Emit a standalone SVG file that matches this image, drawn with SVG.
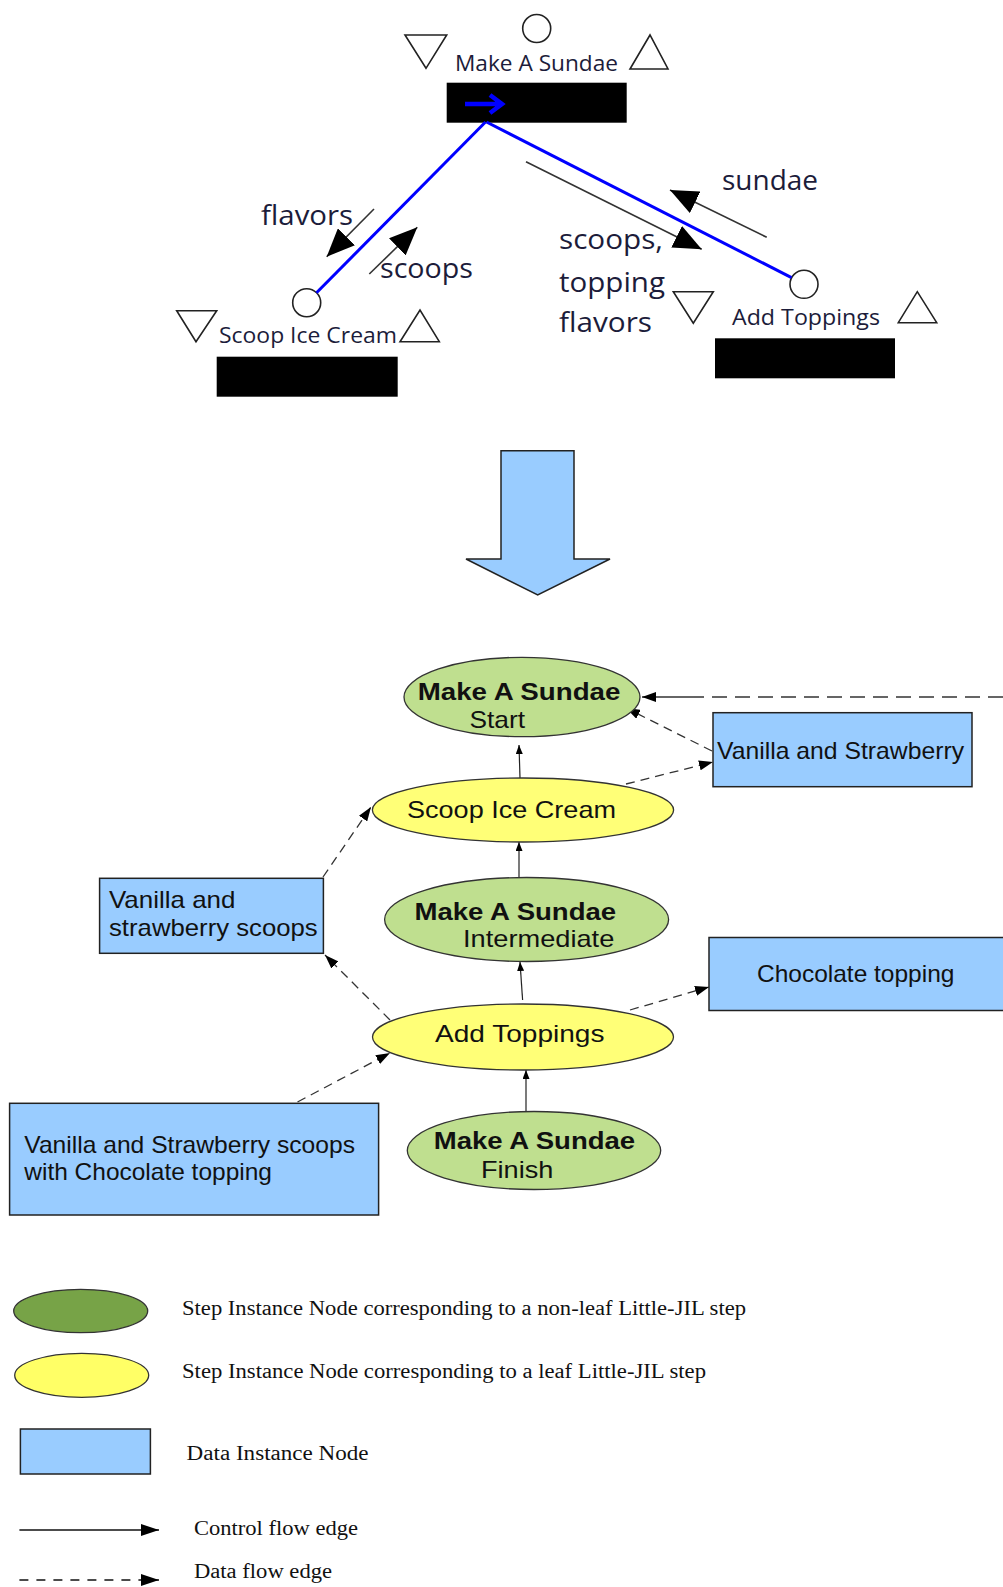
<svg xmlns="http://www.w3.org/2000/svg" width="1003" height="1587" viewBox="0 0 1003 1587">
<style>
.tri{fill:#fff;stroke:#222;stroke-width:1.6}
.port{fill:#fff;stroke:#222;stroke-width:1.6}
.bar{fill:#000}
.lbl{font-family:"Open Sans","Noto Sans",sans-serif;font-size:22px;fill:#1c1c3a}
.big{font-family:"Open Sans","Noto Sans",sans-serif;font-size:28px;fill:#1c1c3a}
.blue{stroke:#0000ff;stroke-width:3;fill:none}
.darr{stroke:#333;stroke-width:1.6;fill:none;marker-end:url(#bigHead)}
.green{fill:#bfdf8f;stroke:#333;stroke-width:1.3}
.yellow{fill:#ffff77;stroke:#333;stroke-width:1.3}
.data{fill:#99ccff;stroke:#222;stroke-width:1.5}
.t{font-family:"Liberation Sans",Arial,sans-serif;font-size:24px;fill:#111}
.tb{font-family:"Liberation Sans",Arial,sans-serif;font-size:24px;font-weight:bold;fill:#111}
.ctrl{stroke:#222;stroke-width:1.2;fill:none;marker-end:url(#ctrlHead)}
.dflow{stroke:#333;stroke-width:1.3;fill:none;stroke-dasharray:9 6;marker-end:url(#dataHead)}
.leg{font-family:"Liberation Serif","Times New Roman",serif;font-size:20px;fill:#111}
</style>
<defs>
<marker id="bigHead" markerUnits="userSpaceOnUse" viewBox="0 0 28 24" refX="28" refY="12" markerWidth="28" markerHeight="24" orient="auto"><path d="M0,0 L28,12 L0,24 z" fill="#000"/></marker>
<marker id="ctrlHead" markerUnits="userSpaceOnUse" viewBox="0 0 9 7" refX="9" refY="3.5" markerWidth="9" markerHeight="7" orient="auto"><path d="M0,0 L9,3.5 L0,7 z" fill="#000"/></marker>
<marker id="dataHead" markerUnits="userSpaceOnUse" viewBox="0 0 14 10" refX="14" refY="5" markerWidth="14" markerHeight="10" orient="auto"><path d="M0,0 L14,5 L0,10 z" fill="#000"/></marker>
<marker id="legHead" markerUnits="userSpaceOnUse" viewBox="0 0 18 12" refX="18" refY="6" markerWidth="18" markerHeight="12" orient="auto"><path d="M0,0 L18,6 L0,12 z" fill="#000"/></marker>
</defs>

<!-- Top: Little-JIL process -->
<g id="jil-make-a-sundae">
<circle class="port" cx="536.7" cy="28.5" r="14"/>
<polygon class="tri" points="405,35 446.7,35 426,68.3"/>
<text class="lbl" x="455" y="71" textLength="163" lengthAdjust="spacingAndGlyphs">Make A Sundae</text>
<polygon class="tri" points="630,69 668,69 650,35"/>
<rect class="bar" x="446.7" y="82.7" width="180" height="40"/>
<path d="M465,104 H500 M490,95 L502,104 L490,113" stroke="#0000ff" stroke-width="4.5" fill="none"/>
</g>
<g id="jil-scoop-ice-cream">
<circle class="port" cx="306.7" cy="302.7" r="14"/>
<polygon class="tri" points="176.7,310.7 216.7,310.7 196,341.7"/>
<text class="lbl" x="219" y="343" textLength="178" lengthAdjust="spacingAndGlyphs">Scoop Ice Cream</text>
<polygon class="tri" points="400,341.7 439.3,341.7 420,310"/>
<rect class="bar" x="216.7" y="356.7" width="181" height="40"/>
</g>
<g id="jil-add-toppings">
<circle class="port" cx="804" cy="284.3" r="14"/>
<polygon class="tri" points="673.3,291.7 713.3,291.7 693.3,323.3"/>
<text class="lbl" x="732" y="325" textLength="148" lengthAdjust="spacingAndGlyphs">Add Toppings</text>
<polygon class="tri" points="898.3,322.7 936.7,322.7 917.3,291.7"/>
<rect class="bar" x="715" y="338.3" width="180" height="40"/>
</g>
<g id="jil-connectors">
<line class="blue" x1="485.5" y1="122" x2="316.5" y2="292.8"/>
<line class="blue" x1="486.5" y1="122" x2="791.5" y2="277.6"/>
<line class="darr" x1="374" y1="209" x2="326.7" y2="256.7"/>
<line class="darr" x1="369.3" y1="274" x2="417.3" y2="227.3"/>
<line class="darr" x1="766.7" y1="237.3" x2="670" y2="190"/>
<line class="darr" x1="526" y1="161.7" x2="701.7" y2="249.3"/>
<text class="big" x="261" y="225" textLength="92" lengthAdjust="spacingAndGlyphs">flavors</text>
<text class="big" x="380" y="278" textLength="93" lengthAdjust="spacingAndGlyphs">scoops</text>
<text class="big" x="722" y="190" textLength="96" lengthAdjust="spacingAndGlyphs">sundae</text>
<text class="big" x="559" y="249" textLength="104" lengthAdjust="spacingAndGlyphs">scoops,</text>
<text class="big" x="559" y="292" textLength="106" lengthAdjust="spacingAndGlyphs">topping</text>
<text class="big" x="559" y="331.5" textLength="93" lengthAdjust="spacingAndGlyphs">flavors</text>
</g>

<!-- Big transformation arrow -->
<g id="transform-arrow">
<polygon points="501,450.7 574,450.7 574,559 610,559 537.7,595 466,559 501,559" fill="#99ccff" stroke="#222" stroke-width="1.5" stroke-linejoin="miter"/>
</g>

<!-- Bottom: DDG -->
<g id="edges">
<line x1="1003" y1="697" x2="694" y2="697" stroke="#333" stroke-width="1.4" stroke-dasharray="15 8"/>
<line x1="694" y1="697" x2="642" y2="697" stroke="#333" stroke-width="1.4" marker-end="url(#dataHead)"/>
<line class="dflow" x1="712" y1="751" x2="626" y2="708"/>
<line class="dflow" x1="626" y1="784" x2="713" y2="762"/>
<line class="dflow" x1="323" y1="877" x2="371" y2="807"/>
<line class="dflow" x1="390" y1="1020" x2="325" y2="955"/>
<line class="dflow" x1="630" y1="1010" x2="709" y2="987"/>
<line class="dflow" x1="297.5" y1="1102" x2="390" y2="1053"/>
<line class="ctrl" x1="520" y1="778" x2="519" y2="745"/>
<line class="ctrl" x1="519" y1="877" x2="519" y2="842"/>
<line class="ctrl" x1="522.6" y1="1000" x2="520" y2="962"/>
<line class="ctrl" x1="526" y1="1111" x2="526" y2="1070"/>
</g>
<g id="node-start">
<ellipse class="green" cx="522" cy="697" rx="118" ry="39.7"/>
<text class="tb" x="417.7" y="700" textLength="202.7" lengthAdjust="spacingAndGlyphs">Make A Sundae</text>
<text class="t" x="469.4" y="728.3" textLength="55.6" lengthAdjust="spacingAndGlyphs">Start</text>
</g>
<g id="node-vanilla-strawberry">
<rect class="data" x="713" y="712.7" width="259" height="74"/>
<text class="t" x="717" y="759" textLength="247" lengthAdjust="spacingAndGlyphs">Vanilla and Strawberry</text>
</g>
<g id="node-scoop">
<ellipse class="yellow" cx="523" cy="810" rx="150.6" ry="32"/>
<text class="t" x="407" y="818.3" textLength="209" lengthAdjust="spacingAndGlyphs">Scoop Ice Cream</text>
</g>
<g id="node-scoops-data">
<rect class="data" x="99.6" y="878.3" width="223.8" height="75"/>
<text class="t" x="109" y="908.3" textLength="126.4" lengthAdjust="spacingAndGlyphs">Vanilla and</text>
<text class="t" x="109" y="936" textLength="208.7" lengthAdjust="spacingAndGlyphs">strawberry scoops</text>
</g>
<g id="node-intermediate">
<ellipse class="green" cx="526.6" cy="919.5" rx="142" ry="42"/>
<text class="tb" x="414.5" y="920" textLength="201.7" lengthAdjust="spacingAndGlyphs">Make A Sundae</text>
<text class="t" x="463" y="946.7" textLength="151.3" lengthAdjust="spacingAndGlyphs">Intermediate</text>
</g>
<g id="node-chocolate">
<rect class="data" x="709" y="937.5" width="300" height="73"/>
<text class="t" x="757" y="981.7" textLength="197.4" lengthAdjust="spacingAndGlyphs">Chocolate topping</text>
</g>
<g id="node-add-toppings">
<ellipse class="yellow" cx="523" cy="1037" rx="150.5" ry="33"/>
<text class="t" x="435" y="1041.7" textLength="169.5" lengthAdjust="spacingAndGlyphs">Add Toppings</text>
</g>
<g id="node-sundae-data">
<rect class="data" x="9.6" y="1103.3" width="369" height="111.7"/>
<text class="t" x="24.3" y="1153.3" textLength="330.7" lengthAdjust="spacingAndGlyphs">Vanilla and Strawberry scoops</text>
<text class="t" x="24.3" y="1180" textLength="247.6" lengthAdjust="spacingAndGlyphs">with Chocolate topping</text>
</g>
<g id="node-finish">
<ellipse class="green" cx="534" cy="1150.5" rx="126.7" ry="39"/>
<text class="tb" x="433.7" y="1149.3" textLength="201.5" lengthAdjust="spacingAndGlyphs">Make A Sundae</text>
<text class="t" x="481" y="1178.3" textLength="72.3" lengthAdjust="spacingAndGlyphs">Finish</text>
</g>

<!-- Legend -->
<g id="legend">
<ellipse cx="80.7" cy="1311" rx="67" ry="21.7" fill="#77a347" stroke="#333" stroke-width="1.3"/>
<text class="leg" x="182" y="1315" textLength="564" lengthAdjust="spacingAndGlyphs">Step Instance Node corresponding to a non-leaf Little-JIL step</text>
<ellipse cx="81.7" cy="1375.3" rx="67" ry="22" fill="#ffff66" stroke="#333" stroke-width="1.3"/>
<text class="leg" x="182" y="1378.3" textLength="524" lengthAdjust="spacingAndGlyphs">Step Instance Node corresponding to a leaf Little-JIL step</text>
<rect x="20.4" y="1429" width="130" height="45" fill="#99ccff" stroke="#222" stroke-width="1.5"/>
<text class="leg" x="186.6" y="1460" textLength="182" lengthAdjust="spacingAndGlyphs">Data Instance Node</text>
<line x1="19.4" y1="1530" x2="159" y2="1530" stroke="#111" stroke-width="1.5" marker-end="url(#legHead)"/>
<text class="leg" x="194" y="1535" textLength="164" lengthAdjust="spacingAndGlyphs">Control flow edge</text>
<line x1="19.4" y1="1580" x2="159" y2="1580" stroke="#111" stroke-width="1.5" stroke-dasharray="9 8" marker-end="url(#legHead)"/>
<text class="leg" x="194" y="1578" textLength="138" lengthAdjust="spacingAndGlyphs">Data flow edge</text>
</g>
</svg>
